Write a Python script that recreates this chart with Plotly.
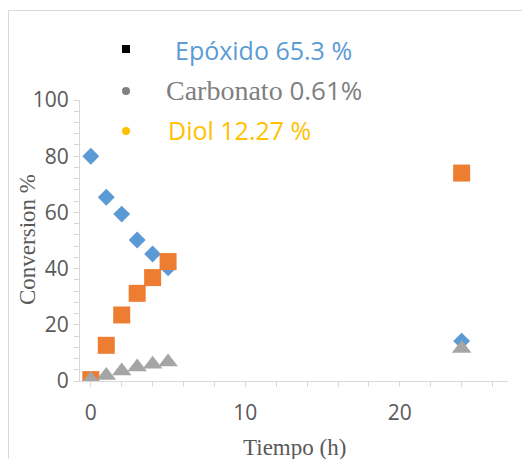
import plotly.graph_objects as go

tiempo = [0, 1, 2, 3, 4, 5, 24]
epoxido = [80, 65.4, 59.4, 50.2, 45.2, 40.3, 14.2]
diol = [0.5, 12.7, 23.5, 31.2, 36.8, 42.5, 74]
carbonato = [0.5, 2.0, 3.6, 5.0, 6.0, 6.8, 11.6]

legend_texts = ["Epóxido 65.3 %", "Carbonato", "0.61%", "Diol 12.27 %"]
x_title = "Tiempo (h)"
y_title = "Conversion %"

W, H = 530, 459
OFF = 8  # page body offset
# plot area in page coordinates: x 80..508, y 100..381
L = 80 - OFF
T = 100 - OFF
pw, ph = 428, 281
R = W - L - pw
B = H - T - ph

def px(x):  # page x -> paper
    return (x - OFF - L) / pw

def py(y):  # page y -> paper
    return (T + ph - (y - OFF)) / ph

fig = go.Figure()
fig.add_trace(go.Scatter(x=tiempo, y=epoxido, mode="markers", name="Epóxido",
                         marker=dict(symbol="diamond", size=13, color="#5b9bd5")))
fig.add_trace(go.Scatter(x=tiempo, y=diol, mode="markers", name="Diol",
                         marker=dict(symbol="square", size=17, color="#ed7d31")))
fig.add_trace(go.Scatter(x=tiempo, y=carbonato, mode="markers", name="Carbonato",
                         marker=dict(symbol="triangle-up", size=17, color="#a5a5a5")))

tickfont = dict(family="Open Sans, Liberation Sans, sans-serif", size=21, color="#595959")
titlefont = dict(family="Liberation Serif, serif", size=23, color="#595959")
fig.update_layout(
    width=W, height=H,
    margin=dict(l=L, r=R, t=T, b=B),
    paper_bgcolor="white", plot_bgcolor="white",
    showlegend=False,
    xaxis=dict(range=[-0.7, 27], tickvals=[0, 10, 20], showgrid=False, zeroline=False,
               showline=True, linecolor="#d9d9d9", linewidth=1,
               ticks="outside", ticklen=5, tickcolor="#d9d9d9",
               minor=dict(dtick=2, ticks="outside", ticklen=5, tickcolor="#d9d9d9"),
               tickfont=tickfont, ticklabelstandoff=8),
    yaxis=dict(range=[0, 100], tickvals=[0, 20, 40, 60, 80, 100], showgrid=False, zeroline=False,
               showline=True, linecolor="#d9d9d9", linewidth=1,
               ticks="outside", ticklen=5, tickcolor="#d9d9d9",
               minor=dict(dtick=4, ticks="outside", ticklen=5, tickcolor="#d9d9d9"),
               tickfont=tickfont, ticklabelstandoff=1),
)

# axis titles
fig.add_annotation(xref="paper", yref="paper", x=px(294), y=py(447), xanchor="center", yanchor="middle",
                   text=x_title, showarrow=False, font=titlefont)
fig.add_annotation(xref="paper", yref="paper", x=px(27), y=py(240), xanchor="center", yanchor="middle",
                   text=y_title, textangle=-90, showarrow=False, font=titlefont)

# outer frame
fig.add_shape(type="rect", xref="paper", yref="paper",
              x0=px(8.5), x1=px(545), y0=py(480), y1=py(10.5),
              line=dict(color="#d9d9d9", width=1), fillcolor="rgba(0,0,0,0)", layer="below")

# legend-like markers
fig.add_shape(type="rect", xref="paper", yref="paper",
              x0=px(122), x1=px(130), y0=py(53), y1=py(45),
              line=dict(width=0), fillcolor="black")
fig.add_shape(type="circle", xref="paper", yref="paper",
              x0=px(122), x1=px(130), y0=py(95), y1=py(87),
              line=dict(width=0), fillcolor="#808080")
fig.add_shape(type="circle", xref="paper", yref="paper",
              x0=px(122), x1=px(130), y0=py(135), y1=py(127),
              line=dict(width=0), fillcolor="#ffc000")

sans = "Open Sans, Liberation Sans, sans-serif"
fig.add_annotation(xref="paper", yref="paper", x=px(173), y=py(50), xanchor="left", yanchor="middle",
                   text=legend_texts[0], showarrow=False,
                   font=dict(family=sans, size=25, color="#5b9bd5"))
fig.add_annotation(xref="paper", yref="paper", x=px(164), y=py(90), xanchor="left", yanchor="middle",
                   text=("<span style='font-family:Liberation Serif, serif;font-size:28px'>" + legend_texts[1]
                         + "</span> " + legend_texts[2]),
                   showarrow=False,
                   font=dict(family=sans, size=26, color="#7f7f7f"))
fig.add_annotation(xref="paper", yref="paper", x=px(166), y=py(130), xanchor="left", yanchor="middle",
                   text=legend_texts[3], showarrow=False,
                   font=dict(family=sans, size=25, color="#ffc000"))

fig.write_html("out.html")
